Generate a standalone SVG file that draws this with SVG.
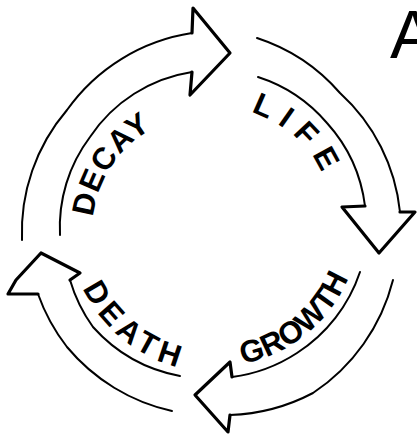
<svg xmlns="http://www.w3.org/2000/svg" width="417" height="434" viewBox="0 0 417 434">
<style>
.arc{fill:none;stroke:#000;stroke-width:2;stroke-linecap:round}
.head{fill:none;stroke:#000;stroke-width:3.2;stroke-linejoin:round;stroke-linecap:round}
.lbl{font-family:"Liberation Sans",Arial,sans-serif;font-weight:bold;font-size:31px;fill:#000}
</style>
<defs>
<path id="pDecay" d="M93,217 A115,115 0 0 1 185,117"/>
<path id="pLife" d="M250.8,112.3 A116,116 0 0 1 332,205"/>
<path id="pGrowth" d="M243.1,363.8 A145,145 0 0 0 358,245"/>
<path id="pDeath" d="M82.9,288.3 A146,146 0 0 0 210,372"/>
</defs>
<rect width="417" height="434" fill="#fff"/>
<g id="connectors">
<g id="arrow-decay">
<path class="arc" d="M22,240 A188,188 0 0 1 67,110 A188,188 0 0 1 192,33"/>
<path class="arc" d="M60,235 A150,150 0 0 1 90,137 A150,150 0 0 1 192,72"/>
<path class="head" d="M192,33 L193,8 L230,53 L190,95 L192,72"/>
</g>
<g id="arrow-life">
<path class="arc" d="M257,38 A186,186 0 0 1 340,93 A186,186 0 0 1 400,212"/>
<path class="arc" d="M258,77 A152,152 0 0 1 327,123 A152,152 0 0 1 365,206"/>
<path class="head" d="M400,212 L415,212 L379,253 L342,207 L365,206"/>
</g>
<g id="arrow-growth">
<path class="arc" d="M393,280 A192,192 0 0 1 313,393 A192,192 0 0 1 230,415"/>
<path class="arc" d="M360,272 A155,155 0 0 1 297,353 A155,155 0 0 1 232,377"/>
<path class="head" d="M230,415 L228,432 L195,395 L230,362 L232,377"/>
</g>
<g id="arrow-death">
<path class="arc" d="M172,411 A190,190 0 0 1 67,347 A190,190 0 0 1 38,294"/>
<path class="arc" d="M180,376 A155,155 0 0 1 93,327 A155,155 0 0 1 70,280"/>
<path class="head" d="M38,294 L8,294 L16,280 L41,253 L80,273 L70,280"/>
</g>
</g>
<g id="decay"><text class="lbl" letter-spacing="1"><textPath href="#pDecay">DECAY</textPath></text></g>
<g id="life"><text class="lbl" letter-spacing="9.5"><textPath href="#pLife">LIFE</textPath></text></g>
<g id="growth"><text class="lbl" letter-spacing="0"><textPath href="#pGrowth">GROWTH</textPath></text></g>
<g id="death"><text class="lbl" letter-spacing="5.5"><textPath href="#pDeath">DEATH</textPath></text></g>
<g id="corner-a"><text x="390" y="58" font-family="Liberation Sans, Arial, sans-serif" font-size="68" fill="#000">A</text></g>
</svg>
